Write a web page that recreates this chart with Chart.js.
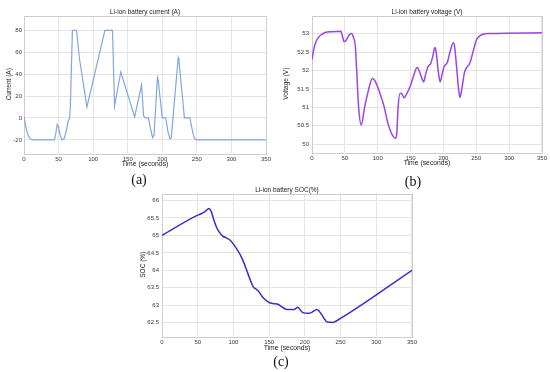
<!DOCTYPE html>
<html>
<head>
<meta charset="utf-8">
<script src="https://cdn.jsdelivr.net/npm/chart.js@4.4.1/dist/chart.umd.min.js"></script>
<style>
  html, body { margin: 0; padding: 0; background: #fff; }
  #fig { position: relative; width: 550px; height: 372px; overflow: hidden; background: #fff; }
  #fig canvas { position: absolute; }
  .tag { position: absolute; font-family: 'Liberation Serif', 'Times New Roman', serif; font-size: 14px; color: #111; transform: translate(-50%, -50%); line-height: 1; }
</style>
</head>
<body>
<div id="fig">
  <canvas id="curChart" style="left:0;top:0;width:275px;height:170px"></canvas>
  <canvas id="voltChart" style="left:275px;top:0;width:275px;height:170px"></canvas>
  <canvas id="socChart" style="left:120px;top:180px;width:300px;height:176px"></canvas>
  <div class="tag" style="left:139px;top:180px">(a)</div>
  <div class="tag" style="left:413px;top:182px">(b)</div>
  <div class="tag" style="left:281px;top:362px">(c)</div>
</div>
<script>
// shared x axis
const xTicks = [0, 50, 100, 150, 200, 250, 300, 350];
const xLabels = ['0', '50', '100', '150', '200', '250', '300', '350'];

// (a) battery current
const timeCur = [0, 2, 4, 6, 9, 13, 44, 46, 48, 50, 52, 55, 58, 61, 64, 66, 67, 70, 76, 80, 91, 117, 128, 131, 140, 160, 170, 173, 175, 180, 183, 186, 188, 193, 194, 200, 205, 208, 211, 213, 223, 224, 232, 240, 243, 246, 249, 350];
const current = [1, -6, -12, -16, -19, -20, -20, -14, -6, -8, -15, -20, -19, -12, -3, 0, 10, 80, 80, 55, 10, 80, 80, 11, 42, 1, 30, 2, 0, 0, -10, -18, -16, 37, 35, 0, 0, -12, -19, -18, 55, 53, 0, 0, -10, -18, -20, -20];
const curTicks = [-20, 0, 20, 40, 60, 80];
const curLabels = ['-20', '0', '20', '40', '60', '80'];

// (b) battery voltage
const timeVolt = [0, 3, 6, 10, 15, 20, 30, 44, 46, 49, 52, 56, 60, 63, 66, 68, 71, 75, 80, 85, 92, 97, 103, 110, 115, 120, 124, 127, 129, 131, 134, 137, 140, 145, 150, 155, 160, 163, 167, 170, 173, 176, 181, 184, 187, 189, 192, 195, 198, 201, 206, 210, 215, 217, 220, 223, 225, 228, 232, 236, 240, 245, 250, 255, 260, 270, 350];
const voltage = [52.3, 52.6, 52.78, 52.9, 52.98, 53.03, 53.05, 53.06, 52.95, 52.78, 52.82, 52.95, 53.0, 52.9, 52.65, 52.0, 51.0, 50.52, 51.0, 51.4, 51.78, 51.68, 51.4, 51.0, 50.6, 50.33, 50.2, 50.16, 50.3, 51.0, 51.38, 51.36, 51.26, 51.4, 51.6, 51.88, 52.08, 52.0, 51.8, 51.69, 51.9, 52.08, 52.2, 52.4, 52.62, 52.5, 52.0, 51.69, 51.9, 52.1, 52.22, 52.5, 52.75, 52.65, 52.1, 51.5, 51.27, 51.5, 51.94, 52.1, 52.19, 52.5, 52.82, 52.93, 52.98, 53.0, 53.02];
const voltTicks = [50, 50.5, 51, 51.5, 52, 52.5, 53];
const voltLabels = ['50', '50.5', '51', '51.5', '52', '52.5', '53'];

// (c) battery state of charge
const timeSoc = [0, 50, 55, 60, 66, 69, 72, 76, 80, 85, 90, 95, 100, 105, 110, 115, 120, 125, 128, 132, 136, 140, 145, 150, 155, 163, 167, 172, 175, 185, 190, 194, 197, 205, 210, 217, 220, 223, 227, 231, 240, 244, 350];
const soc = [65.0, 65.58, 65.62, 65.68, 65.77, 65.68, 65.48, 65.25, 65.1, 64.98, 64.93, 64.87, 64.75, 64.6, 64.43, 64.2, 63.92, 63.65, 63.52, 63.46, 63.38, 63.26, 63.15, 63.08, 63.05, 63.02, 62.97, 62.9, 62.88, 62.88, 62.94, 62.86, 62.79, 62.77, 62.8, 62.88, 62.83, 62.75, 62.62, 62.52, 62.51, 62.55, 64.0];
const socTicks = [62.5, 63, 63.5, 64, 64.5, 65, 65.5, 66];
const socLabels = ['62.5', '63', '63.5', '64', '64.5', '65', '65.5', '66'];

const FONT = "'Liberation Sans', Arial, sans-serif";

// light box round the plot area, like the matlab axes
const framePlugin = {
  id: 'frame',
  beforeDatasetsDraw(chart) {
    const a = chart.chartArea;
    const ctx = chart.ctx;
    ctx.save();
    ctx.strokeStyle = '#cdcdcd';
    ctx.lineWidth = 1;
    ctx.strokeRect(Math.round(a.left) + 0.5, Math.round(a.top) + 0.5, Math.round(a.right - a.left), Math.round(a.bottom - a.top));
    ctx.restore();
  }
};

const pairUp = (xs, ys) => xs.map((x, i) => ({ x: x, y: ys[i] }));

function buildChart(id, cfg) {
  const canvas = document.getElementById(id);
  canvas.width = cfg.w;
  canvas.height = cfg.h;
  return new Chart(canvas.getContext('2d'), {
    type: 'line',
    data: {
      datasets: [{
        data: pairUp(cfg.xs, cfg.ys),
        borderColor: cfg.color,
        borderWidth: cfg.lineWidth,
        pointRadius: 0,
        fill: false,
        tension: cfg.smooth ? 0.4 : 0,
        cubicInterpolationMode: cfg.smooth ? 'monotone' : 'default'
      }]
    },
    options: {
      responsive: false,
      animation: false,
      devicePixelRatio: 1,
      layout: { padding: { left: 0, right: cfg.padRight, top: 0, bottom: 0 } },
      plugins: {
        legend: { display: false },
        tooltip: { enabled: false },
        title: {
          display: true,
          fullSize: false,
          text: cfg.title,
          color: '#222',
          font: { family: FONT, size: 6.5, weight: 'normal', lineHeight: 1 },
          padding: { top: cfg.titleTop, bottom: 0 }
        }
      },
      scales: {
        x: {
          type: 'linear',
          min: 0,
          max: 350,
          afterBuildTicks: (s) => { s.ticks = xTicks.map(v => ({ value: v })); },
          afterFit: (s) => { s.height = cfg.xHeight; },
          grid: { color: '#e4e4e4', drawTicks: false },
          border: { display: false },
          ticks: {
            color: '#3a3a3a', padding: 3, maxRotation: 0, autoSkip: false,
            font: { family: FONT, size: 6 },
            callback: (v) => xLabels[xTicks.indexOf(v)]
          },
          title: {
            display: true,
            text: 'Time (seconds)',
            color: '#222',
            font: { family: FONT, size: 6.8, lineHeight: 1.2 },
            padding: { top: 0, bottom: cfg.xTitlePad }
          }
        },
        y: {
          type: 'linear',
          min: cfg.yMin,
          max: cfg.yMax,
          afterBuildTicks: (s) => { s.ticks = cfg.yTicks.map(v => ({ value: v })); },
          afterFit: (s) => { s.width = cfg.yWidth; },
          grid: { color: '#e4e4e4', drawTicks: false },
          border: { display: false },
          ticks: {
            color: '#3a3a3a', padding: cfg.yTickPad, autoSkip: false,
            font: { family: FONT, size: 6 },
            callback: (v) => cfg.yLabels[cfg.yTicks.indexOf(v)]
          },
          title: {
            display: true,
            text: cfg.yTitle,
            color: '#222',
            font: { family: FONT, size: 6.5, lineHeight: 1.2 },
            padding: { top: cfg.yTitlePad, bottom: 0 }
          }
        }
      }
    },
    plugins: [framePlugin]
  });
}

buildChart('curChart', {
  w: 275, h: 170, xs: timeCur, ys: current, color: '#82a6df', lineWidth: 1.2, smooth: false,
  title: 'Li-ion battery current (A)', titleTop: 9, padRight: 9,
  xHeight: 17, xTitlePad: 1.5, yWidth: 24, yTitlePad: 5, yTickPad: 2,
  yMin: -32, yMax: 93.6, yTicks: curTicks, yLabels: curLabels, yTitle: 'Current (A)'
});

buildChart('voltChart', {
  w: 275, h: 170, xs: timeVolt, ys: voltage, color: '#9a44ea', lineWidth: 1.5, smooth: true,
  title: 'Li-ion battery voltage (V)', titleTop: 9, padRight: 8,
  xHeight: 18, xTitlePad: 2.5, yWidth: 37, yTitlePad: 7, yTickPad: 3,
  yMin: 49.79, yMax: 53.49, yTicks: voltTicks, yLabels: voltLabels, yTitle: 'Voltage (V)'
});

buildChart('socChart', {
  w: 300, h: 176, xs: timeSoc, ys: soc, color: '#3d2fc4', lineWidth: 1.5, smooth: true,
  title: 'Li-ion battery SOC(%)', titleTop: 7, padRight: 8,
  xHeight: 20, xTitlePad: 3.5, yWidth: 42, yTitlePad: 19, yTickPad: 3,
  yMin: 62.12, yMax: 66.2, yTicks: socTicks, yLabels: socLabels, yTitle: 'SOC (%)'
});
</script>
</body>
</html>
